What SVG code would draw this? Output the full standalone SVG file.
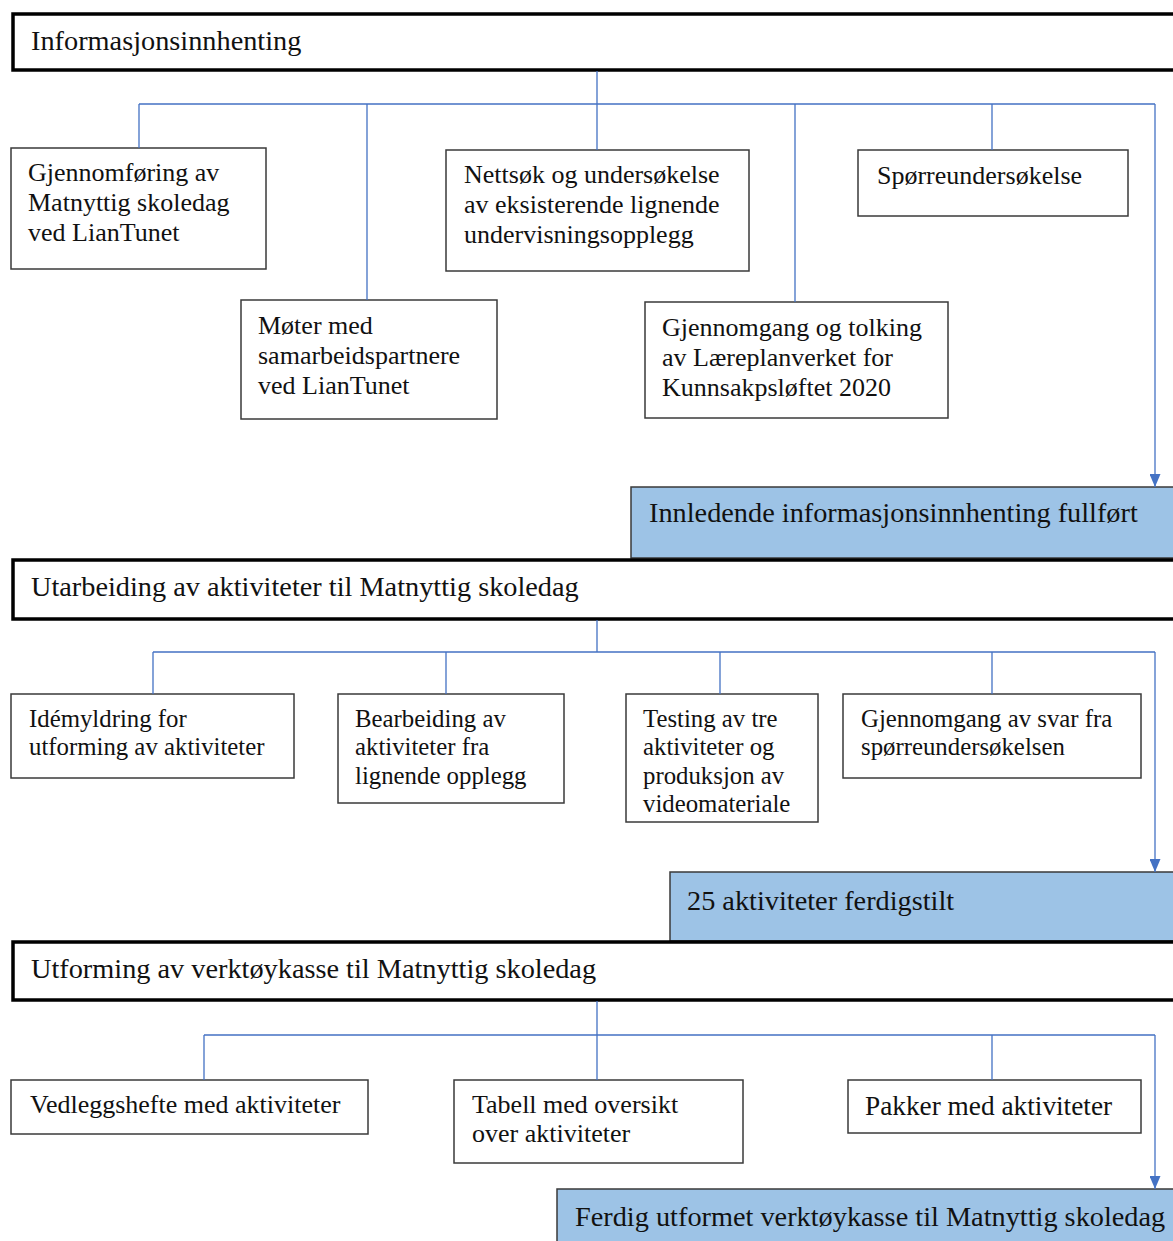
<svg xmlns="http://www.w3.org/2000/svg" width="1173" height="1241" viewBox="0 0 1173 1241">
<style>
  text { font-family: "Liberation Serif", "Times New Roman", serif; fill: #111; }
  .hdr { fill: #fff; stroke: #000; stroke-width: 3.5; }
  .box { fill: #fff; stroke: #3a3a3a; stroke-width: 1.5; }
  .ms { fill: #9dc3e6; stroke: #3a3a3a; stroke-width: 1.5; }
  .t28 { font-size: 28.3px; }
  .t27 { font-size: 27.3px; }
  .t26 { font-size: 26px; }
  .t25 { font-size: 24.8px; }
  .con { fill: none; stroke: #4472c4; stroke-width: 1.3; }
</style>
<defs>
  <marker id="arr" markerWidth="13" markerHeight="11" refX="13" refY="5.5" orient="auto" markerUnits="userSpaceOnUse" viewBox="0 0 13 11">
    <path d="M0,0 L13,5.5 L0,11 Z" fill="#4472c4"/>
  </marker>
</defs>
<rect width="1173" height="1241" fill="#fff"/>

<!-- Section 1 -->
<g id="hdr1">
  <rect class="hdr" x="13" y="14" width="1175" height="56"/>
  <text class="t28" x="31" y="50">Informasjonsinnhenting</text>
</g>
<g id="ms1">
  <rect class="ms" x="631" y="487" width="560" height="71"/>
  <text class="t28" x="649" y="522">Innledende informasjonsinnhenting fullført</text>
</g>
<g id="n1a">
  <rect class="box" x="11" y="148" width="255" height="121"/>
  <text class="t26" x="28" y="181">Gjennomføring av</text>
  <text class="t26" x="28" y="211">Matnyttig skoledag</text>
  <text class="t26" x="28" y="241">ved LianTunet</text>
</g>
<g id="n1b">
  <rect class="box" x="241" y="300" width="256" height="119"/>
  <text class="t26" x="258" y="334">Møter med</text>
  <text class="t26" x="258" y="364">samarbeidspartnere</text>
  <text class="t26" x="258" y="394">ved LianTunet</text>
</g>
<g id="n1c">
  <rect class="box" x="446" y="150" width="303" height="121"/>
  <text class="t26" x="464" y="183">Nettsøk og undersøkelse</text>
  <text class="t26" x="464" y="213">av eksisterende lignende</text>
  <text class="t26" x="464" y="243">undervisningsopplegg</text>
</g>
<g id="n1d">
  <rect class="box" x="645" y="302" width="303" height="116"/>
  <text class="t26" x="662" y="336">Gjennomgang og tolking</text>
  <text class="t26" x="662" y="366">av Læreplanverket for</text>
  <text class="t26" x="662" y="396">Kunnsakpsløftet 2020</text>
</g>
<g id="n1e">
  <rect class="box" x="858" y="150" width="270" height="66"/>
  <text class="t26" x="877" y="184">Spørreundersøkelse</text>
</g>

<!-- Section 2 -->
<g id="hdr2">
  <rect class="hdr" x="13" y="560" width="1175" height="59"/>
  <text class="t28" x="31" y="596">Utarbeiding av aktiviteter til Matnyttig skoledag</text>
</g>
<g id="ms2">
  <rect class="ms" x="670" y="872" width="520" height="69"/>
  <text class="t28" x="687" y="910">25 aktiviteter ferdigstilt</text>
</g>
<g id="n2a">
  <rect class="box" x="11" y="694" width="283" height="84"/>
  <text class="t25" x="29" y="727">Idémyldring for</text>
  <text class="t25" x="29" y="755">utforming av aktiviteter</text>
</g>
<g id="n2b">
  <rect class="box" x="338" y="694" width="226" height="109"/>
  <text class="t25" x="355" y="727">Bearbeiding av</text>
  <text class="t25" x="355" y="755">aktiviteter fra</text>
  <text class="t25" x="355" y="784">lignende opplegg</text>
</g>
<g id="n2c">
  <rect class="box" x="626" y="694" width="192" height="128"/>
  <text class="t25" x="643" y="727">Testing av tre</text>
  <text class="t25" x="643" y="755">aktiviteter og</text>
  <text class="t25" x="643" y="784">produksjon av</text>
  <text class="t25" x="643" y="812">videomateriale</text>
</g>
<g id="n2d">
  <rect class="box" x="843" y="694" width="298" height="84"/>
  <text class="t25" x="861" y="727">Gjennomgang av svar fra</text>
  <text class="t25" x="861" y="755">spørreundersøkelsen</text>
</g>

<!-- Section 3 -->
<g id="hdr3">
  <rect class="hdr" x="13" y="942" width="1175" height="58"/>
  <text class="t28" x="31" y="978">Utforming av verktøykasse til Matnyttig skoledag</text>
</g>
<g id="ms3">
  <rect class="ms" x="557" y="1189" width="630" height="70"/>
  <text class="t28" x="575" y="1226">Ferdig utformet verktøykasse til Matnyttig skoledag</text>
</g>
<g id="n3a">
  <rect class="box" x="11" y="1080" width="357" height="54"/>
  <text class="t26" x="30" y="1113">Vedleggshefte med aktiviteter</text>
</g>
<g id="n3b">
  <rect class="box" x="454" y="1080" width="289" height="83"/>
  <text class="t26" x="472" y="1113">Tabell med oversikt</text>
  <text class="t26" x="472" y="1142">over aktiviteter</text>
</g>
<g id="n3c">
  <rect class="box" x="848" y="1080" width="293" height="53"/>
  <text class="t27" x="865" y="1115">Pakker med aktiviteter</text>
</g>

<!-- Connectors -->
<g id="connectors">
  <path class="con" d="M597,71 V104 M139,104 H1155 M139,104 V148 M367,104 V300 M597,104 V150 M795,104 V302 M992,104 V150"/>
  <path class="con" d="M1155,104 V487" marker-end="url(#arr)"/>
  <path class="con" d="M597,620 V652 M153,652 H1155 M153,652 V694 M446,652 V694 M720,652 V694 M992,652 V694"/>
  <path class="con" d="M1155,652 V872" marker-end="url(#arr)"/>
  <path class="con" d="M597,1001 V1035 M204,1035 H1155 M204,1035 V1080 M597,1035 V1080 M992,1035 V1080"/>
  <path class="con" d="M1155,1035 V1189" marker-end="url(#arr)"/>
</g>
</svg>
